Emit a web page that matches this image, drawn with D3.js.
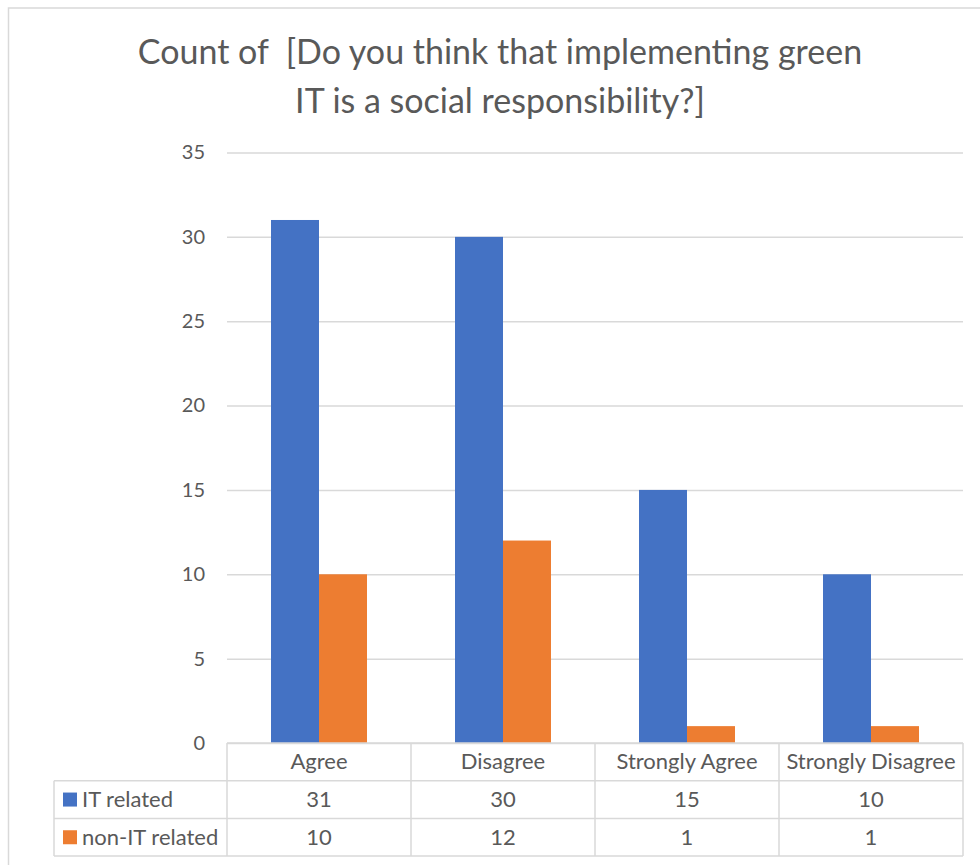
<!DOCTYPE html>
<html lang="en">
<head>
  <meta charset="UTF-8">
  <title>Green IT chart</title>
  <script src="https://d3js.org/d3.v7.min.js"></script>
  <style>
    body { margin: 0; background: #fff; }
    text { font-family: Lato, "Open Sans", sans-serif; fill: #595959; }
  </style>
</head>
<body>
  <svg id="svg" width="980" height="865"></svg>
  <script>
    // data
    var categories = ["Agree", "Disagree", "Strongly Agree", "Strongly Disagree"]
    var seriesNames = ["IT related", "non-IT related"]
    var itRelated = [31, 30, 15, 10]
    var nonItRelated = [10, 12, 1, 1]
    var yTicks = [0, 5, 10, 15, 20, 25, 30, 35]
    var titleLines = ["Count of  [Do you think that implementing green", "IT is a social responsibility?]"]

    var colors = ["#4472C4", "#ED7D31"]
    var grid = "#d9d9d9"
    var values = [itRelated, nonItRelated]

    var plotLeft = 227, plotRight = 963, plotTop = 152.5, plotBottom = 743
    var rowH = 37.7
    var legendLeft = 54
    var fs = "22px"

    var svg = d3.select("#svg")

    // chart border (only top and left visible)
    svg.append("rect")
      .attr("x", 8.5).attr("y", 8)
      .attr("width", 1000).attr("height", 900)
      .attr("fill", "none").attr("stroke", grid).attr("stroke-width", 1.5)

    // title
    svg.append("g").selectAll("text")
      .data(titleLines)
      .enter().append("text")
      .attr("x", 500)
      .attr("y", (d, i) => 64 + i * 49)
      .attr("text-anchor", "middle")
      .style("font-size", "34px")
      .style("white-space", "pre")
      .text(d => d)

    // scales
    var x0 = d3.scaleBand().domain(categories).range([plotLeft, plotRight])
    var x1 = d3.scaleBand().domain(seriesNames).range([0, x0.bandwidth()])
      .paddingInner(0).paddingOuter(0.917)
    var y = d3.scaleLinear().domain([0, 35]).range([plotBottom, plotTop])

    // y axis + gridlines
    var yAxis = d3.axisLeft(y)
      .tickValues(yTicks)
      .tickSize(-(plotRight - plotLeft))
      .tickPadding(22)
    var ga = svg.append("g")
      .attr("transform", "translate(" + plotLeft + ",0)")
      .call(yAxis)
    ga.select(".domain").remove()
    ga.selectAll("line").attr("stroke", grid).attr("stroke-width", 1.5)
    ga.selectAll("text")
      .style("font-size", "20px")
      .style("font-family", "Lato, sans-serif")
      .attr("fill", "#595959")

    // bars
    var groups = svg.append("g").selectAll("g")
      .data(categories)
      .enter().append("g")
      .attr("transform", d => "translate(" + x0(d) + ",0)")
    groups.selectAll("rect")
      .data((d, ci) => seriesNames.map((s, si) => ({ s: s, v: values[si][ci], si: si })))
      .enter().append("rect")
      .attr("x", d => x1(d.s))
      .attr("width", x1.bandwidth())
      .attr("y", d => y(d.v))
      .attr("height", d => plotBottom - y(d.v))
      .attr("fill", d => colors[d.si])

    // data table
    var tbl = svg.append("g")
    var hLines = [
      [plotLeft, plotRight, plotBottom],
      [legendLeft, plotRight, plotBottom + rowH],
      [legendLeft, plotRight, plotBottom + rowH * 2],
      [legendLeft, plotRight, plotBottom + rowH * 3]
    ]
    tbl.selectAll("line.h")
      .data(hLines)
      .enter().append("line")
      .attr("x1", d => d[0]).attr("x2", d => d[1])
      .attr("y1", d => d[2]).attr("y2", d => d[2])
      .attr("stroke", grid).attr("stroke-width", 1.5)

    var vx = categories.map(c => x0(c)).concat([plotRight])
    tbl.selectAll("line.v")
      .data(vx)
      .enter().append("line")
      .attr("x1", d => d).attr("x2", d => d)
      .attr("y1", plotBottom).attr("y2", plotBottom + rowH * 3)
      .attr("stroke", grid).attr("stroke-width", 1.5)
    tbl.append("line")
      .attr("x1", legendLeft).attr("x2", legendLeft)
      .attr("y1", plotBottom + rowH).attr("y2", plotBottom + rowH * 3)
      .attr("stroke", grid).attr("stroke-width", 1.5)

    // category row
    tbl.selectAll("text.cat")
      .data(categories)
      .enter().append("text")
      .attr("x", d => x0(d) + x0.bandwidth() / 2)
      .attr("y", plotBottom + rowH / 2 + 7.5)
      .attr("text-anchor", "middle")
      .style("font-size", fs)
      .text(d => d)

    // series rows
    seriesNames.forEach((s, si) => {
      var cy = plotBottom + rowH * (si + 1) + rowH / 2
      tbl.append("rect")
        .attr("x", 63).attr("y", cy - 7)
        .attr("width", 14).attr("height", 14)
        .attr("fill", colors[si])
      tbl.append("text")
        .attr("x", 82).attr("y", cy + 7.5)
        .style("font-size", fs)
        .text(s)
      tbl.selectAll("text.v" + si)
        .data(categories)
        .enter().append("text")
        .attr("x", d => x0(d) + x0.bandwidth() / 2)
        .attr("y", cy + 7.5)
        .attr("text-anchor", "middle")
        .style("font-size", fs)
        .text((d, ci) => values[si][ci])
    })
  </script>
</body>
</html>
